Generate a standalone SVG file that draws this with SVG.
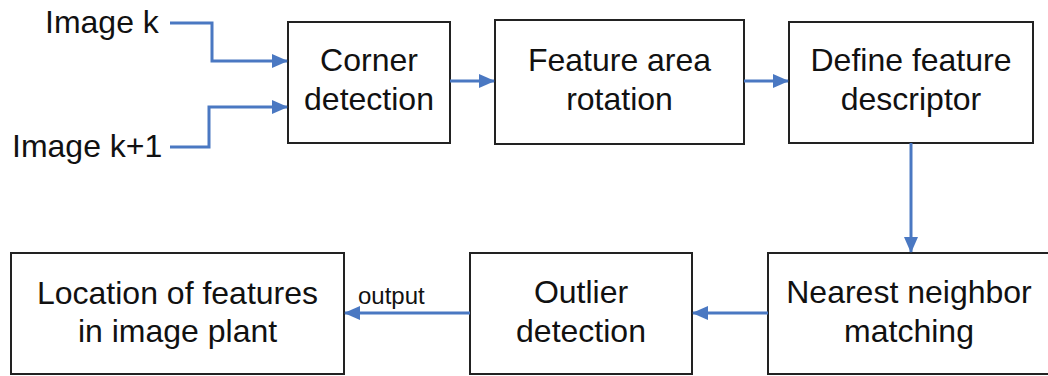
<svg xmlns="http://www.w3.org/2000/svg" width="1048" height="376" viewBox="0 0 1048 376">
  <defs>
    <style>
      .box { fill: #ffffff; stroke: #222222; stroke-width: 2; }
      .t { font-family: "Liberation Sans", Arial, sans-serif; font-size: 32px; fill: #111111; text-anchor: middle; }
      .lbl { font-family: "Liberation Sans", Arial, sans-serif; font-size: 32px; fill: #111111; }
      .small { font-family: "Liberation Sans", Arial, sans-serif; font-size: 24px; fill: #111111; }
      .c { fill: none; stroke: #4a78c2; stroke-width: 3; }
    </style>
    <marker id="ah" markerUnits="userSpaceOnUse" markerWidth="16" markerHeight="14" refX="15" refY="7" orient="auto">
      <path d="M0,0 L16,7 L0,14 Z" fill="#4a78c2"/>
    </marker>
  </defs>
  <rect width="1048" height="376" fill="#ffffff"/>

  <g id="input-k">
    <text class="lbl" x="45" y="33">Image k</text>
  </g>
  <g id="input-k1">
    <text class="lbl" x="12" y="157">Image k+1</text>
  </g>

  <g id="corner">
    <rect class="box" x="288" y="22" width="162" height="121"/>
    <text class="t" x="369" y="71">Corner</text>
    <text class="t" x="369" y="110">detection</text>
  </g>
  <g id="rotation">
    <rect class="box" x="495" y="20" width="249" height="124"/>
    <text class="t" x="619.5" y="71">Feature area</text>
    <text class="t" x="619.5" y="110">rotation</text>
  </g>
  <g id="descriptor">
    <rect class="box" x="789" y="22" width="244" height="121"/>
    <text class="t" x="911" y="71">Define feature</text>
    <text class="t" x="911" y="110">descriptor</text>
  </g>
  <g id="nearest">
    <rect class="box" x="768" y="253" width="300" height="121"/>
    <text class="t" x="909" y="303">Nearest neighbor</text>
    <text class="t" x="909" y="342">matching</text>
  </g>
  <g id="outlier">
    <rect class="box" x="470" y="253" width="222" height="121"/>
    <text class="t" x="581" y="303">Outlier</text>
    <text class="t" x="581" y="342">detection</text>
  </g>
  <g id="location">
    <rect class="box" x="11" y="253" width="333" height="121"/>
    <text class="t" x="177.5" y="304">Location of features</text>
    <text class="t" x="177.5" y="342">in image plant</text>
  </g>

  <g id="connectors">
    <path class="c" d="M170,23 H212 V61 H287" marker-end="url(#ah)"/>
    <path class="c" d="M170,147 H209 V107 H287" marker-end="url(#ah)"/>
    <path class="c" d="M450,81 H494" marker-end="url(#ah)"/>
    <path class="c" d="M744,81 H788" marker-end="url(#ah)"/>
    <path class="c" d="M911,143 V252" marker-end="url(#ah)"/>
    <path class="c" d="M768,313 H693" marker-end="url(#ah)"/>
    <path class="c" d="M470,313 H345" marker-end="url(#ah)"/>
    <text class="small" x="358" y="304">output</text>
  </g>
</svg>
